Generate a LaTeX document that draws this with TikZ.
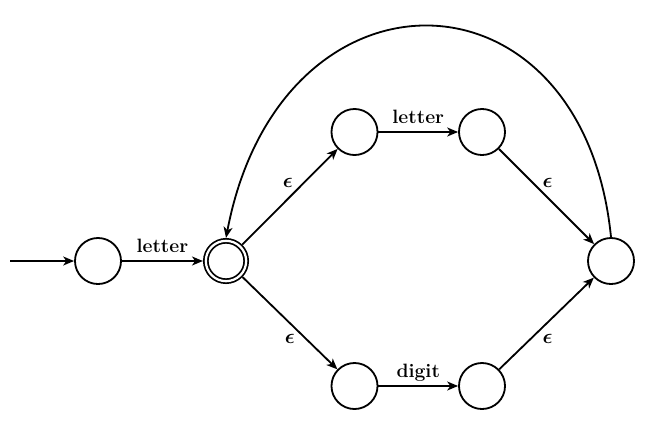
\documentclass[tikz,border=0pt]{standalone}
\usepackage{amsmath}
\usetikzlibrary{arrows.meta}
\begin{document}
\begin{tikzpicture}[x=0.58pt,y=-0.58pt,
  state/.style={circle,draw,line width=1.05pt,minimum size=26.7pt,inner sep=0pt},
  accept/.style={circle,draw,line width=1pt,double,double distance=1.3pt,minimum size=23.4pt,inner sep=0pt,outer sep=1.7pt},
  trans/.style={line width=1.05pt,-{Stealth[length=6.3pt,width=5.2pt,inset=1.8pt]}},
  lbl/.style={font=\fontsize{11.2}{13}\selectfont\bfseries,anchor=base,yshift=4.8pt},
  eps/.style={font=\fontsize{12}{14}\selectfont}]
\useasboundingbox (0,0) rectangle (659,429);
\node[state] (A) at (98,261) {};
\node[accept] (B) at (226,261) {};
\node[state] (C) at (354.5,132) {};
\node[state] (D) at (482,132) {};
\node[state] (E) at (354.5,386) {};
\node[state] (F) at (482,386) {};
\node[state] (G) at (611,261) {};
\coordinate (S) at (10,261);
\draw[trans] (S) -- (A);
\draw[trans] (A) -- node[lbl] {letter} (B);
\draw[trans] (B) -- node[eps,xshift=-1.2pt,yshift=7.8pt] {$\boldsymbol{\epsilon}$} (C);
\draw[trans] (B) -- node[eps,yshift=-9pt] {$\boldsymbol{\epsilon}$} (E);
\draw[trans] (C) -- node[lbl] {letter} (D);
\draw[trans] (E) -- node[lbl] {digit} (F);
\draw[trans] (D) -- node[eps,xshift=0.6pt,yshift=7.8pt] {$\boldsymbol{\epsilon}$} (G);
\draw[trans] (F) -- node[eps,xshift=0.6pt,yshift=-9pt] {$\boldsymbol{\epsilon}$} (G);
\draw[trans] (G.north) .. controls (583,-42) and (280,-46) .. (B.north);
\end{tikzpicture}
\end{document}
